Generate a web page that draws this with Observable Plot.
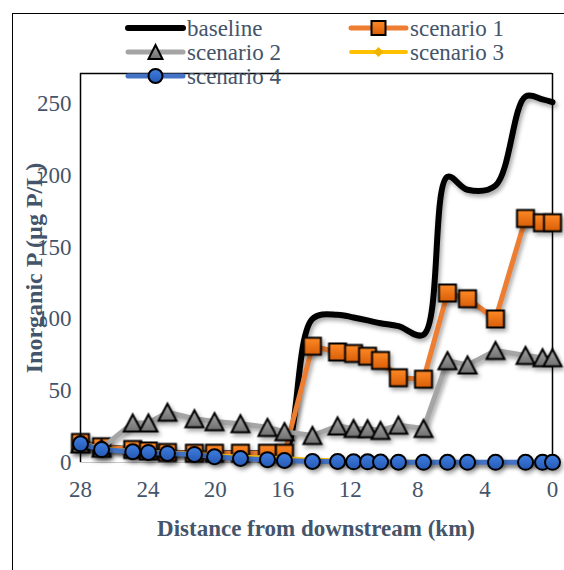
<!DOCTYPE html>
<html><head><meta charset="utf-8">
<script src="https://cdn.jsdelivr.net/npm/d3@7"></script>
<script src="https://cdn.jsdelivr.net/npm/@observablehq/plot@0.6"></script>
<style>
body{margin:0;width:564px;height:570px;overflow:hidden;background:#fff;position:relative;font-family:"Liberation Serif",serif}
#border{position:absolute;left:12px;top:13px;width:700px;height:700px;border:1.5px solid #000}
#chart{position:absolute;left:0;top:0}
#legend{position:absolute;left:0;top:0}
</style></head><body>
<div id="border"></div><div id="chart"></div><svg id="legend" width="564" height="100"></svg>
<script>
// ---- data ----
const distanceKm = [28, 26.75, 24.9, 23.97, 22.84, 21.24, 20.05, 18.51, 16.91, 15.9, 14.24, 12.75, 11.8, 10.97, 10.2, 9.14, 7.65, 6.23, 5.04, 3.38, 1.6, 0.59, 0];
const baseline  = [14, 11, 9, 8, 7, 6.5, 6.5, 6.5, 6.5, 7, 100, 103, 101, 99, 97, 95, 89, 199, 190, 193, 255, 253, 251];
const scenario1 = [14, 11, 9, 8, 7, 6.5, 6.5, 6.5, 6.5, 6.5, 81, 77, 76, 74, 71, 59, 58, 118, 114, 100, 170, 167, 167];
const scenario2 = [13, 10, 27.5, 27.5, 35, 30.5, 28.5, 27, 24.5, 21.5, 18.8, 25.5, 23.7, 23.5, 22.3, 26, 23.7, 71, 68, 78, 74.5, 73, 73];
const scenario3 = [13, 9.5, 8, 7.5, 7, 6, 5, 4, 3.5, 3, 2, 1.5, 1.2, 1, 0.8, 0.6, 0.5, 0.4, 0.4, 0.3, 0.3, 0.2, 0.2];
const scenario4 = [13, 9, 7.5, 7, 6.3, 5.6, 4, 2.8, 2, 1.4, 0.7, 0.7, 0.5, 0.5, 0.3, 0.2, 0.1, 0.1, 0.1, 0.1, 0.1, 0.1, 0.1];
const seriesNames = ["baseline", "scenario 1", "scenario 2", "scenario 3", "scenario 4"];
const xTicks = [28, 24, 20, 16, 12, 8, 4, 0];
const yTicks = [0, 50, 100, 150, 200, 250];
const yMax = 271;
const xLabel = "Distance from downstream (km)";
const yLabel = "Inorganic P (µg P/L)";

// ---- styles ----
const fontFam = "Liberation Serif, serif";
const textColor = "#44546a";
const lineColors = ["#000000", "#ED7D31", "#A5A5A5", "#FFC000", "#4472C4"];
const lineWidths = [6, 5, 5, 4, 5];

const mk = (vals) => distanceKm.map((d, i) => ({km: d, v: vals[i]}));
const allSeries = [baseline, scenario1, scenario2, scenario3, scenario4].map(mk);

const squareSym = {draw(c, size){const r = Math.sqrt(size/Math.PI); c.rect(-r, -r, 2*r, 2*r);}};
const triSym = {draw(c, size){const r = Math.sqrt(size/Math.PI); c.moveTo(0, -r*0.95); c.lineTo(r, r*0.95); c.lineTo(-r, r*0.95); c.closePath();}};
const diaSym = {draw(c, size){const r = Math.sqrt(size/Math.PI); c.moveTo(0, -r); c.lineTo(r, 0); c.lineTo(0, r); c.lineTo(-r, 0); c.closePath();}};

const plot = Plot.plot({
  width: 564, height: 570,
  marginLeft: 80, marginRight: 12, marginTop: 73, marginBottom: 108,
  style: {fontFamily: fontFam, fontSize: "23px", color: textColor, background: "transparent", overflow: "visible"},
  x: {domain: [28, 0], ticks: xTicks, tickSize: 0, tickPadding: 18, label: null},
  y: {domain: [0, yMax], ticks: yTicks, tickSize: 0, tickPadding: 9, label: null},
  marks: [
    Plot.ruleY([0], {stroke: "#c8c8c8", strokeWidth: 1}),
    Plot.ruleX([28, 0], {stroke: "#000", strokeWidth: 1.5}),
    Plot.ruleY([yMax], {stroke: "#000", strokeWidth: 1.5}),
    Plot.line(allSeries[0], {x: "km", y: "v", stroke: lineColors[0], strokeWidth: lineWidths[0], curve: "catmull-rom"}),
    Plot.line(allSeries[1], {x: "km", y: "v", stroke: lineColors[1], strokeWidth: lineWidths[1]}),
    Plot.dot(allSeries[1], {x: "km", y: "v", r: 8.5, symbol: squareSym, fill: "url(#gOrange)", stroke: "#000", strokeWidth: 2}),
    Plot.line(allSeries[2], {x: "km", y: "v", stroke: lineColors[2], strokeWidth: lineWidths[2]}),
    Plot.dot(allSeries[2], {x: "km", y: "v", r: 9, symbol: triSym, fill: "url(#gGray)", stroke: "#000", strokeWidth: 2}),
    Plot.line(allSeries[3], {x: "km", y: "v", stroke: lineColors[3], strokeWidth: lineWidths[3]}),
    Plot.dot(allSeries[3], {x: "km", y: "v", r: 4.5, symbol: diaSym, fill: "#f0b400", stroke: "none"}),
    Plot.line(allSeries[4], {x: "km", y: "v", stroke: lineColors[4], strokeWidth: lineWidths[4]}),
    Plot.dot(allSeries[4], {x: "km", y: "v", r: 7.5, fill: "url(#gBlue)", stroke: "#000", strokeWidth: 2})
  ]
});
document.getElementById("chart").appendChild(plot);

const svg = d3.select(plot);
const defs = svg.insert("defs", ":first-child");
function grad(d, id, c1, c2){
  const g = d.append("linearGradient").attr("id", id).attr("x1", 0).attr("y1", 0).attr("x2", 0).attr("y2", 1);
  g.append("stop").attr("offset", 0).attr("stop-color", c1);
  g.append("stop").attr("offset", 1).attr("stop-color", c2);
}
grad(defs, "gOrange", "#ff8a26", "#d95e08");
grad(defs, "gGray", "#a6a6a6", "#6f6f6f");
grad(defs, "gBlue", "#3f7fe0", "#2558b5");
svg.selectAll('g[aria-label="dot"], g[aria-label="line"]').style("filter", "drop-shadow(2px 3px 2px rgba(0,0,0,0.35))");

svg.append("text").attr("x", 316).attr("y", 536).attr("text-anchor", "middle").attr("font-family", fontFam)
  .attr("font-weight", "bold").attr("font-size", 23).attr("fill", textColor).text(xLabel);
svg.append("text").attr("transform", "translate(42,268) rotate(-90)").attr("text-anchor", "middle").attr("font-family", fontFam)
  .attr("font-weight", "bold").attr("font-size", 24).attr("fill", textColor).text(yLabel);

// ---- legend ----
const lg = d3.select("#legend");
const lgDefs = lg.append("defs");
grad(lgDefs, "lOrange", "#ff8a26", "#d95e08");
grad(lgDefs, "lGray", "#a6a6a6", "#6f6f6f");
grad(lgDefs, "lBlue", "#3f7fe0", "#2558b5");
const colX = [128, 351];
const rowY = [28, 52, 76];
seriesNames.forEach((name, i) => {
  const x0 = colX[i % 2], y0 = rowY[Math.floor(i / 2)];
  const g = lg.append("g");
  g.append("line").attr("x1", x0).attr("x2", x0 + 55).attr("y1", y0).attr("y2", y0)
    .attr("stroke", lineColors[i]).attr("stroke-width", lineWidths[i]).attr("stroke-linecap", "round");
  const cx = x0 + 27.5;
  if (i === 1) g.append("rect").attr("x", cx - 7).attr("y", y0 - 7).attr("width", 14).attr("height", 14).attr("fill", "url(#lOrange)").attr("stroke", "#000").attr("stroke-width", 2);
  if (i === 2) g.append("path").attr("d", `M${cx},${y0-7}L${cx+7},${y0+7}L${cx-7},${y0+7}Z`).attr("fill", "url(#lGray)").attr("stroke", "#000").attr("stroke-width", 2);
  if (i === 3) g.append("path").attr("d", `M${cx},${y0-5}L${cx+5},${y0}L${cx},${y0+5}L${cx-5},${y0}Z`).attr("fill", "#f0b400");
  if (i === 4) g.append("circle").attr("cx", cx).attr("cy", y0).attr("r", 7).attr("fill", "url(#lBlue)").attr("stroke", "#000").attr("stroke-width", 2);
  g.append("text").attr("x", x0 + 59).attr("y", y0 + 8).attr("font-size", 23)
    .attr("font-family", fontFam).attr("fill", textColor).text(name);
});
</script>
</body></html>
